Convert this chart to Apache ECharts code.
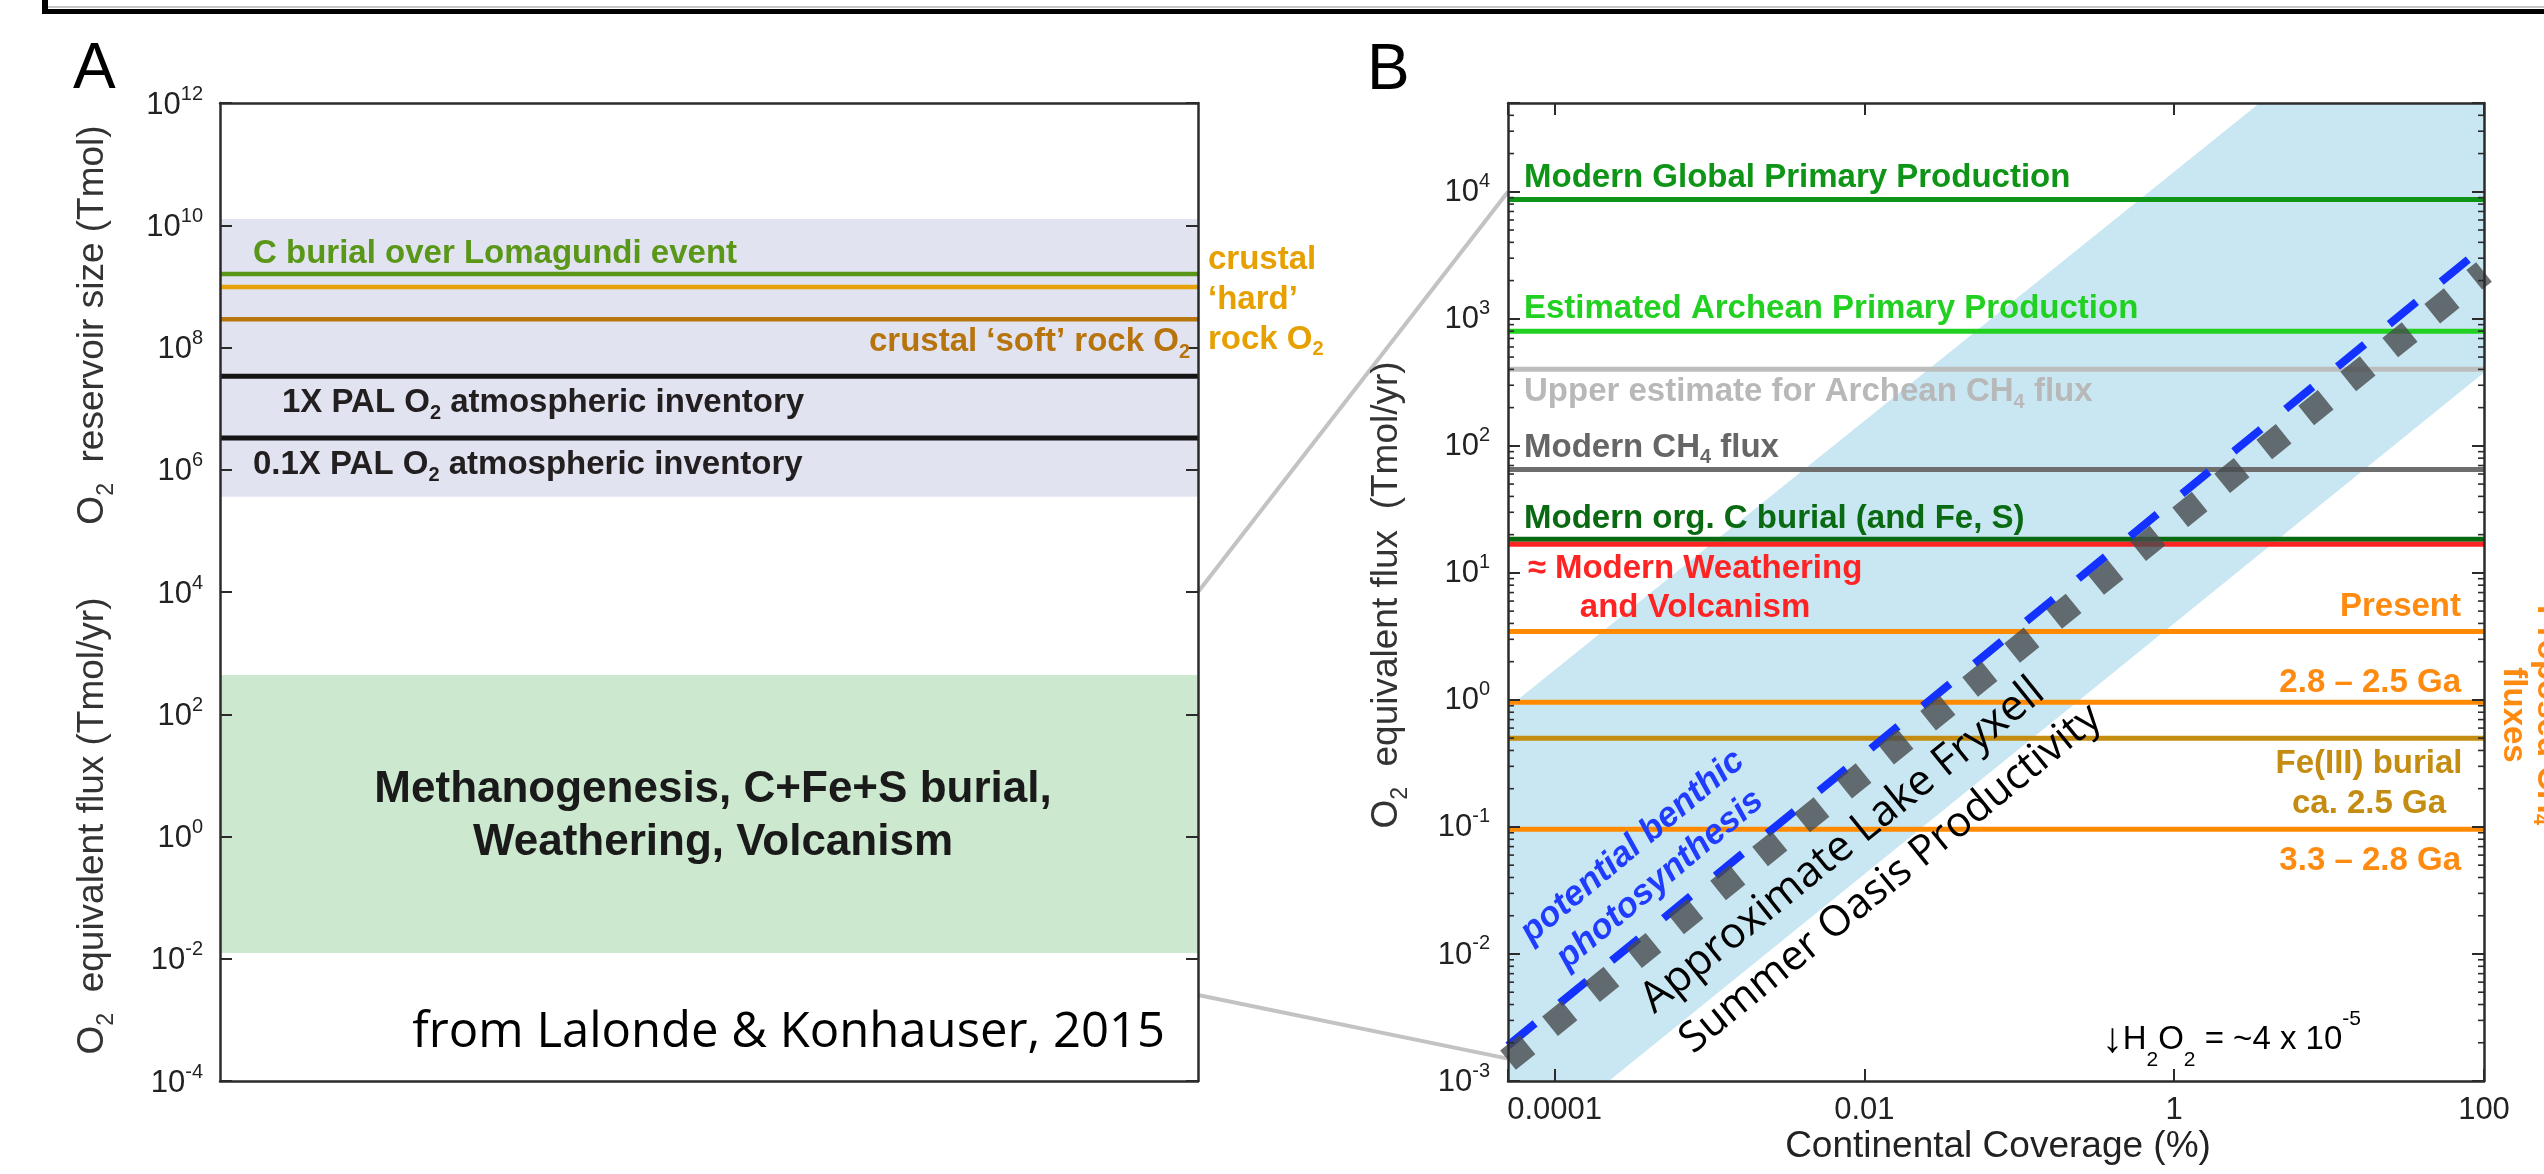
<!DOCTYPE html>
<html><head><meta charset="utf-8">
<script src="https://cdn.jsdelivr.net/npm/echarts@6/dist/echarts.min.js"></script>
<style>html,body{margin:0;padding:0;background:#fff;overflow:hidden}#c{width:2544px;height:1174px}</style>
</head><body><div id="c"></div>
<script>
// ---------------- Panel A : reservoirs (Tmol) and fluxes (Tmol/yr) ----------------
const aAxisExpMin = -4, aAxisExpMax = 12, aAxisExpStep = 2;
const aTickExps = [-4, -2, 0, 2, 4, 6, 8, 10, 12];
const aBandNames = ['O2 reservoirs', 'O2 equivalent fluxes'];
const aBandLow  = [3.6e5, 0.0124];
const aBandHigh = [1.26e10, 440];
const aLineNames  = ['C burial over Lomagundi event', 'crustal hard rock O2', 'crustal soft rock O2', '1X PAL O2 atmospheric inventory', '0.1X PAL O2 atmospheric inventory'];
const aLineValues = [1.6e9, 9.8e8, 2.9e8, 3.4e7, 3.3e6];
const zoomFromA = [1e4, 2.55e-3];      // connector start values on panel A
// ---------------- Panel B : O2 equivalent flux vs continental coverage ----------------
const bCoverageRange = [5e-5, 100];     // %
const bFluxRange = [1e-3, 5e4];         // Tmol/yr
const bXTickExps = [-4, -2, 0, 2];
const bYTickExps = [-3, -2, -1, 0, 1, 2, 3, 4];
const bLineNames  = ['Modern Global Primary Production', 'Estimated Archean Primary Production', 'Upper estimate for Archean CH4 flux', 'Modern CH4 flux', 'Modern org. C burial (and Fe, S)', 'Modern Weathering and Volcanism', 'Present', '2.8 – 2.5 Ga', 'Fe(III) burial ca. 2.5 Ga', '3.3 – 2.8 Ga'];
const bLineValues = [8700, 800, 400, 65, 18.4, 16.8, 3.45, 0.957, 0.5, 0.096];
const benthicCoverage = [5e-5, 100];
const benthicFlux     = [1.9e-3, 3700];
const fryxellCoverage = [5e-5, 100];
const fryxellFlux     = [1.46e-3, 2340];
const oasisLowerEdge = [[2.24e-4, 1e-3], [100, 378]];
const oasisUpperEdge = [[5e-5, 0.87], [3.56, 5e4]];
const zoomToB = [1e4, 1.5e-3];          // connector end values on panel B

// ---------------- styles ----------------
const FONT = '"Liberation Sans", Arial, Helvetica, sans-serif';
const MYR = '"Open Sans", "Noto Sans", sans-serif';
const AX = '#2b2b2b';
const aBandColors = ['#e1e3f0', '#cce9cf'];
const aLineColors = ['#5a9618', '#e6a208', '#b8760c', '#151515', '#151515'];
const bLineColors = ['#0e9416', '#22d022', '#bdbdbd', '#6e6e6e', '#0a6a12', '#ff2424', '#ff8a00', '#ff8a00', '#c48c10', '#ff8a00'];

const chart = echarts.init(document.getElementById('c'), null, {renderer: 'canvas'});
const xBmin = Math.log10(bCoverageRange[0]), xBmax = Math.log10(bCoverageRange[1]);

function ax(o) {
  return Object.assign({
    z: 10,
    splitLine: {show: false}, minorSplitLine: {show: false}, minorTick: {show: false},
    axisLine: {show: true, onZero: false, lineStyle: {color: AX, width: 2.5}},
    axisTick: {show: true, inside: true, length: 12, lineStyle: {color: AX, width: 2}},
    axisLabel: {show: false}
  }, o);
}

const series = [];
// panel A bands
series.push({
  type: 'custom', xAxisIndex: 0, yAxisIndex: 0, z: 1, silent: true,
  data: aBandLow.map((lo, i) => [Math.log10(lo), Math.log10(aBandHigh[i])]),
  renderItem: (params, api) => {
    const p1 = api.coord([0, api.value(1)]), p2 = api.coord([1, api.value(0)]);
    return {type: 'rect', shape: {x: p1[0], y: p1[1], width: p2[0] - p1[0], height: p2[1] - p1[1]},
            style: {fill: aBandColors[params.dataIndex]}};
  }
});
// panel A lines
aLineValues.forEach((v, i) => series.push({
  type: 'line', name: aLineNames[i], xAxisIndex: 0, yAxisIndex: 0, z: 3, silent: true, symbol: 'none',
  data: [[0, Math.log10(v)], [1, Math.log10(v)]],
  lineStyle: {color: aLineColors[i], width: i >= 3 ? 5 : 4.5}
}));
// panel B oasis band
series.push({
  type: 'custom', xAxisIndex: 2, yAxisIndex: 2, z: 1, silent: true, data: [[xBmin, 1]],
  renderItem: (params, api) => {
    const poly = [oasisLowerEdge[0], oasisLowerEdge[1], [bCoverageRange[1], bFluxRange[1]],
                  oasisUpperEdge[1], oasisUpperEdge[0], [bCoverageRange[0], bFluxRange[0]]];
    return {type: 'polygon', shape: {points: poly.map(p => api.coord([Math.log10(p[0]), p[1]]))},
            style: {fill: '#c9e7f2'}};
  }
});
// panel B horizontal lines
bLineValues.forEach((v, i) => series.push({
  type: 'line', name: bLineNames[i], xAxisIndex: 2, yAxisIndex: 2, z: 3, silent: true, symbol: 'none',
  data: [[xBmin, v], [xBmax, v]],
  lineStyle: {color: bLineColors[i], width: 5}
}));
// benthic (blue dashed) and Lake Fryxell (grey squares)
series.push({
  type: 'line', name: 'potential benthic photosynthesis', xAxisIndex: 2, yAxisIndex: 2, z: 4, silent: true, symbol: 'none',
  data: benthicCoverage.map((c, i) => [Math.log10(c), benthicFlux[i]]),
  lineStyle: {color: '#1432ff', width: 8, type: [35, 32], cap: 'butt'}
});
series.push({
  type: 'line', name: 'Approximate Lake Fryxell', xAxisIndex: 2, yAxisIndex: 2, z: 5, silent: true, symbol: 'none',
  data: fryxellCoverage.map((c, i) => [Math.log10(c), fryxellFlux[i]]),
  lineStyle: {color: 'rgba(70,75,78,0.8)', width: 25, type: [25, 29], cap: 'butt'}
});

const option = {
  animation: false,
  backgroundColor: '#ffffff',
  grid: [
    {left: 220, top: 103, width: 978, height: 978},
    {left: 1508, top: 103, width: 976, height: 978}
  ],
  xAxis: [
    ax({gridIndex: 0, type: 'value', min: 0, max: 1, position: 'bottom', axisTick: {show: false}}),
    ax({gridIndex: 0, type: 'value', min: 0, max: 1, position: 'top', axisTick: {show: false}}),
    ax({gridIndex: 1, type: 'value', min: xBmin, max: xBmax, splitNumber: 3, position: 'bottom',
        axisLabel: {show: true, margin: 14, fontSize: 31, fontFamily: FONT, color: '#222',
          formatter: v => { const r = Math.round(v); return (Math.abs(v - r) < 1e-6 && bXTickExps.indexOf(r) >= 0) ? String(+Math.pow(10, r).toFixed(Math.max(0, -r))) : ''; }}}),
    ax({gridIndex: 1, type: 'value', min: xBmin, max: xBmax, splitNumber: 3, position: 'top'})
  ],
  yAxis: [
    ax({gridIndex: 0, type: 'value', min: aAxisExpMin, max: aAxisExpMax, interval: aAxisExpStep, position: 'left'}),
    ax({gridIndex: 0, type: 'value', min: aAxisExpMin, max: aAxisExpMax, interval: aAxisExpStep, position: 'right'}),
    ax({gridIndex: 1, type: 'log', logBase: 10, min: bFluxRange[0], max: bFluxRange[1], position: 'left'}),
    ax({gridIndex: 1, type: 'log', logBase: 10, min: bFluxRange[0], max: bFluxRange[1], position: 'right'})
  ],
  series: series
};
chart.setOption(option);

// ---------------- annotations ----------------
const pA = (x, e) => chart.convertToPixel({xAxisIndex: 0, yAxisIndex: 0}, [x, e]);
const pB = (c, f) => chart.convertToPixel({xAxisIndex: 2, yAxisIndex: 2}, [Math.log10(c), f]);
function richFor(size, weight, family, color, fstyle, subLH, supLH, supSize) {
  const t = {fontSize: supSize || Math.round(size * 0.62), fontWeight: weight, fontFamily: family, fill: color, fontStyle: fstyle || 'normal'};
  return {
    sub: Object.assign({}, t, {verticalAlign: 'bottom', lineHeight: subLH || 12}),
    sup: Object.assign({}, t, {verticalAlign: 'top', lineHeight: supLH || 20})
  };
}
function T(x, y, text, o) {
  o = o || {};
  const size = o.size || 33, weight = o.weight || 'bold', family = o.family || FONT, color = o.color || '#000';
  return {
    type: 'text', x: x, y: y, rotation: o.rot || 0, z: 60, silent: true,
    style: {
      text: text, fill: color, fontSize: size, fontWeight: weight, fontFamily: family, fontStyle: o.fstyle || 'normal',
      align: o.align || 'left', verticalAlign: 'middle', lineHeight: o.lh || Math.round(size * 1.2),
      rich: richFor(size, weight, family, color, o.fstyle, o.subLH, o.supLH, o.supSize)
    }
  };
}
const aL = pA(0, 0)[0], aR = pA(1, 0)[0];
const aY = aLineValues.map(v => pA(0, Math.log10(v))[1]);
const bL = pB(bCoverageRange[0], 1)[0], bR = pB(bCoverageRange[1], 1)[0];
const bY = bLineValues.map(v => pB(1, v)[1]);
const aBandMid = pA(0, (Math.log10(aBandLow[1]) + Math.log10(aBandHigh[1])) / 2)[1];
const deg = Math.PI / 180;

const g = [];
// y tick labels (10^n)
const tickOpt = {size: 31, weight: 'normal', color: '#222', align: 'right', lh: 42, supLH: 20, supSize: 20};
aTickExps.forEach(e => { const p = pA(0, e); g.push(T(p[0] - 17, p[1] + 2, '10{sup|' + e + '}', tickOpt)); });
bYTickExps.forEach(e => { const p = pB(bCoverageRange[0], Math.pow(10, e)); g.push(T(p[0] - 18, p[1] + 1, '10{sup|' + e + '}', tickOpt)); });
// log minor ticks on both sides of panel B
for (let e = bYTickExps[0]; e <= bYTickExps[bYTickExps.length - 1]; e++) {
  for (let k = 2; k <= 9; k++) {
    const v = k * Math.pow(10, e);
    if (v >= bFluxRange[1]) continue;
    const y = pB(1, v)[1];
    g.push({type: 'line', z: 65, silent: true, shape: {x1: bL, y1: y, x2: bL + 6, y2: y}, style: {stroke: AX, lineWidth: 1.6}});
    g.push({type: 'line', z: 65, silent: true, shape: {x1: bR - 6, y1: y, x2: bR, y2: y}, style: {stroke: AX, lineWidth: 1.6}});
  }
}
// frame pieces of the figure
g.push({type: 'rect', z: 70, silent: true, shape: {x: 42, y: 9, width: 2502, height: 5}, style: {fill: '#000'}});
g.push({type: 'rect', z: 70, silent: true, shape: {x: 42, y: 0, width: 6, height: 14}, style: {fill: '#000'}});
g.push({type: 'line', z: 70, silent: true, shape: {x1: 48, y1: 7, x2: 2544, y2: 7}, style: {stroke: '#c8c8c8', lineWidth: 2}});
// connectors
const c1 = pA(1, Math.log10(zoomFromA[0])), c2 = pB(bCoverageRange[0], zoomToB[0]);
const c3 = pA(1, Math.log10(zoomFromA[1])), c4 = pB(bCoverageRange[0], zoomToB[1]);
g.push({type: 'line', z: 0, silent: true, shape: {x1: c1[0], y1: c1[1], x2: c2[0], y2: c2[1]}, style: {stroke: '#c3c3c3', lineWidth: 4}});
g.push({type: 'line', z: 0, silent: true, shape: {x1: c3[0], y1: c3[1], x2: c4[0], y2: c4[1]}, style: {stroke: '#c3c3c3', lineWidth: 4}});
// panel letters
g.push(T(73, 70, 'A', {size: 64, weight: 'normal', color: '#000'}));
g.push(T(1367, 71, 'B', {size: 64, weight: 'normal', color: '#000'}));
// axis names
g.push(T(93, 325, 'O{sub|2}  reservoir size (Tmol)', {size: 37, weight: 'normal', color: '#333', rot: 90 * deg, align: 'center', lh: 50, subLH: 14}));
g.push(T(93, 826, 'O{sub|2}  equivalent flux (Tmol/yr)', {size: 37, weight: 'normal', color: '#333', rot: 90 * deg, align: 'center', lh: 50, subLH: 14}));
g.push(T(1387, 595, 'O{sub|2}  equivalent flux  (Tmol/yr)', {size: 37, weight: 'normal', color: '#333', rot: 90 * deg, align: 'center', lh: 50, subLH: 14}));
g.push(T((bL + bR) / 2 + 2, 1147, 'Continental Coverage (%)', {size: 37, weight: 'normal', color: '#222', align: 'center'}));
// panel A labels
g.push(T(aL + 33, aY[0] - 19.5, 'C burial over Lomagundi event', {color: aLineColors[0]}));
g.push(T(aR + 10, aY[1] + 13, 'crustal\n‘hard’\nrock O{sub|2}', {color: '#e6a000', lh: 40}));
g.push(T(aR - 8, aY[2] + 23, 'crustal ‘soft’ rock O{sub|2}', {color: '#b8740c', align: 'right', lh: 40}));
g.push(T(aL + 62, aY[3] + 27, '1X PAL O{sub|2} atmospheric inventory', {color: '#231f20', lh: 40}));
g.push(T(aL + 33, aY[4] + 27, '0.1X PAL O{sub|2} atmospheric inventory', {color: '#231f20', lh: 40}));
g.push(T((aL + aR) / 2 + 4, aBandMid + 2, 'Methanogenesis, C+Fe+S burial,\nWeathering, Volcanism', {size: 44, color: '#1a1a1a', align: 'center', lh: 53}));
g.push(T(aR - 33, 1033, 'from Lalonde & Konhauser, 2015', {size: 49, weight: 'normal', family: MYR, color: '#000', align: 'right'}));
// panel B line labels
g.push(T(bL + 16, bY[0] - 22, 'Modern Global Primary Production', {color: bLineColors[0]}));
g.push(T(bL + 16, bY[1] - 22, 'Estimated Archean Primary Production', {color: bLineColors[1]}));
g.push(T(bL + 16, bY[2] + 23, 'Upper estimate for Archean CH{sub|4} flux', {color: '#b8b8b8', lh: 40}));
g.push(T(bL + 16, bY[3] - 22, 'Modern CH{sub|4} flux', {color: '#666666', lh: 40}));
g.push(T(bL + 16, bY[4] - 20, 'Modern org. C burial (and Fe, S)', {color: bLineColors[4]}));
g.push(T(1695, bY[5] + 44, '≈ Modern Weathering\nand Volcanism', {color: bLineColors[5], align: 'center', lh: 38.5}));
g.push(T(bR - 23, bY[6] - 25, 'Present', {color: '#ff8a10', align: 'right'}));
g.push(T(bR - 23, bY[7] - 19, '2.8 – 2.5 Ga', {color: '#ff8a10', align: 'right'}));
g.push(T(2369, bY[8] + 46, 'Fe(III) burial\nca. 2.5 Ga', {color: '#c48c10', align: 'center', lh: 40}));
g.push(T(bR - 23, bY[9] + 32, '3.3 – 2.8 Ga', {color: '#ff8a10', align: 'right'}));
g.push(T(2530, 715, 'Proposed CH{sub|4}\nfluxes', {color: '#ff8a10', align: 'center', rot: -90 * deg, lh: 34}));
// diagonal labels
const pb = pB(3.9e-4, 0.052), lf = pB(7.25e-3, 0.071), so = pB(0.0148, 0.039), h2 = pB(0.34, 2.1e-3);
g.push(T(pb[0], pb[1], 'potential benthic\nphotosynthesis', {size: 35, color: '#1f3cff', fstyle: 'italic', align: 'center', rot: 40 * deg, lh: 43}));
g.push(T(lf[0], lf[1], 'Approximate Lake Fryxell', {size: 43, weight: 'normal', family: MYR, color: '#000', align: 'center', rot: 39 * deg}));
g.push(T(so[0], so[1], 'Summer Oasis Productivity', {size: 42, weight: 'normal', family: MYR, color: '#000', align: 'center', rot: 39 * deg}));
g.push({
  type: 'text', x: h2[0], y: h2[1], z: 60, silent: true,
  style: {
    text: '{arr|↓}H{sub|2}O{sub|2} = ~4 x 10{sup|-5}', fill: '#000', fontSize: 33, fontFamily: FONT, fontWeight: 'normal',
    align: 'left', verticalAlign: 'middle', lineHeight: 62,
    rich: {
      arr: {fontSize: 42, fontWeight: 'bold', fontFamily: FONT, fill: '#000', lineHeight: 62},
      sub: {fontSize: 21, fontFamily: FONT, fill: '#000', verticalAlign: 'bottom', lineHeight: 18},
      sup: {fontSize: 21, fontFamily: FONT, fill: '#000', verticalAlign: 'top', lineHeight: 32}
    }
  }
});
chart.setOption({graphic: {elements: g}});
</script>
</body></html>
